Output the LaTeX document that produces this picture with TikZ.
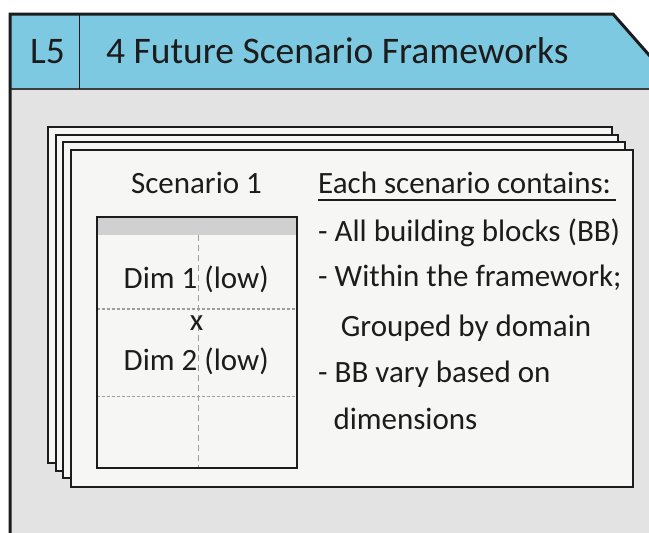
\documentclass[tikz,border=0pt]{standalone}
\usepackage{fontspec}
\setmainfont{Carlito}
\definecolor{headblue}{HTML}{7EC9E2}
\definecolor{bodygrey}{HTML}{E3E3E3}
\definecolor{cardfill}{HTML}{F6F6F4}
\definecolor{bandgrey}{HTML}{D0D0D0}
\definecolor{dashgrey}{HTML}{9E9E9E}
\definecolor{ink}{HTML}{1C1C1C}
\begin{document}
\begin{tikzpicture}[x=1pt,y=-1pt,
  frameline/.style={line width=3pt, draw=ink, line join=miter},
  card/.style={draw=ink, line width=2pt, fill=cardfill},
  gridline/.style={draw=dashgrey, line width=1.5pt},
  headtext/.style={font=\fontsize{37.5}{37.5}\selectfont, text=ink, inner sep=0pt},
  bodytext/.style={font=\fontsize{31}{31}\selectfont, text=ink, inner sep=0pt}]
\useasboundingbox (0,0) rectangle (649,533);
\clip (0,0) rectangle (649,533);
\fill[white] (0,0) rectangle (649,533);

% panel body and header band
\fill[bodygrey] (10,89) rectangle (660,540);
\fill[headblue] (10,14) -- (613,14) -- (678.9,89) -- (10,89) -- cycle;
\draw[line width=2.2pt, draw=ink!85] (10,89) -- (660,89);
\draw[line width=1.6pt, draw=ink] (79.5,14) -- (79.5,89);
\draw[frameline] (10,545) -- (10,14) -- (613,14) -- (678.9,89);

\node[headtext, anchor=base] (level) at (47.5,63) {L5};
\node[headtext, anchor=base west] (title) at (106,63) {4 Future Scenario Frameworks};

% stacked scenario cards
\draw[card] (48.3,127) rectangle (611.7,463.3);
\draw[card] (56,134.7) rectangle (618.3,470.7);
\draw[card] (63.3,142.3) rectangle (625,478);
\draw[card] (71,150) rectangle (633.3,486.7);

% scenario grid
\fill[cardfill] (96.7,216.7) rectangle (296.7,468);
\fill[bandgrey] (96.7,216.7) rectangle (296.7,235);
\draw[gridline, dash pattern=on 3pt off 2pt] (96.7,309) -- (296.7,309);
\draw[gridline, dash pattern=on 3pt off 2pt] (96.7,396.7) -- (296.7,396.7);
\draw[gridline, dash pattern=on 6pt off 4pt] (198.3,235) -- (198.3,468);
\draw[line width=2.4pt, draw=ink] (96.7,216.7) rectangle (296.7,468);

\node[bodytext, anchor=base] (scen) at (196.5,193.3) {Scenario 1};
\node[bodytext, anchor=base] (dimA) at (196.2,288.3) {Dim 1 (low)};
\node[bodytext, anchor=base] (times) at (196.7,330) {x};
\node[bodytext, anchor=base] (dimB) at (196.2,370) {Dim 2 (low)};

% description list
\node[bodytext, anchor=base west] (head) at (318,193.3) {Each scenario contains:};
\draw[line width=1.6pt, draw=ink] (head.base west) ++(0,6.7) -- ++(298,0);
\node[bodytext, anchor=base west] (itemA) at (318,241.7) {- All building blocks (BB)};
\node[bodytext, anchor=base west] (itemB) at (318,286.7) {- Within the framework;};
\node[bodytext, anchor=base west] (itemBc) at (340.7,336) {Grouped by domain};
\node[bodytext, anchor=base west] (itemC) at (318,382.3) {- BB vary based on};
\node[bodytext, anchor=base west] (itemCc) at (333.3,429.3) {dimensions};
\end{tikzpicture}
\end{document}
